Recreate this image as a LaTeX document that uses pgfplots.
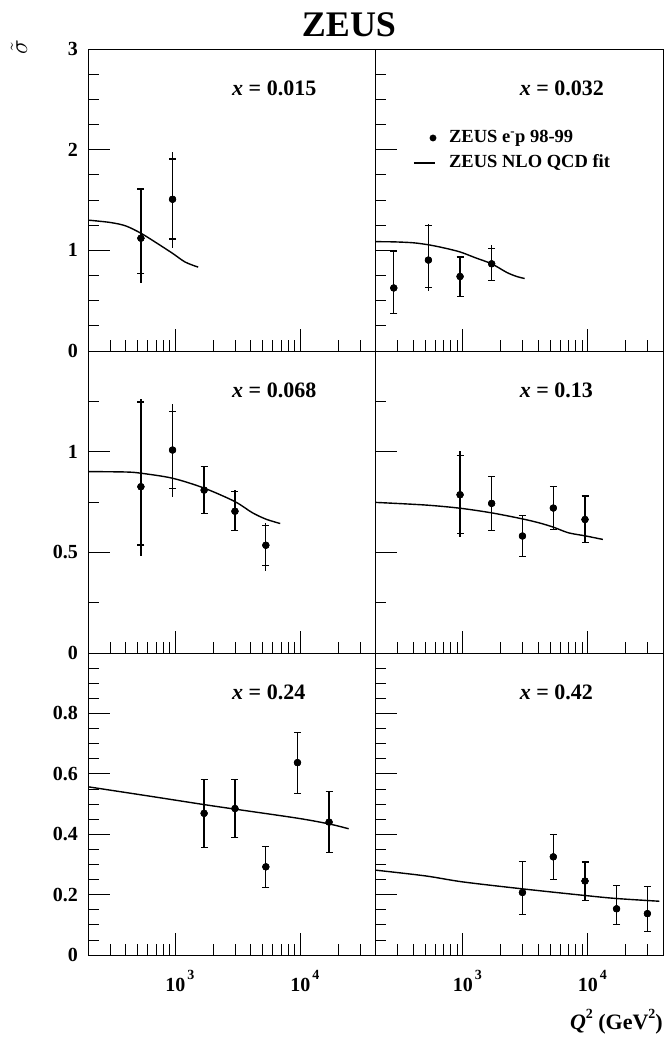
\documentclass[border=0pt]{standalone}
\usepackage{fontspec}
\setmainfont{Liberation Serif}
\usepackage{pgfplots}
\pgfplotsset{compat=1.18}
\usepackage{pgfplotstable}

% q  y  stat+  stat-  total+  total-   (errors)
\pgfplotstableread{
q y sp sm tp tm
530 1.12 0.49 0.35 0.50 0.44
950 1.507 0.40 0.394 0.47 0.487
}\dataA
\pgfplotstableread{
q y sp sm tp tm
280 0.626 0.367 0.25 0.367 0.25
530 0.903 0.347 0.27 0.357 0.31
950 0.74 0.193 0.197 0.205 0.208
1700 0.866 0.154 0.166 0.184 0.166
}\dataB
\pgfplotstableread{
q y sp sm tp tm
530 0.826 0.421 0.29 0.437 0.344
950 1.008 0.191 0.191 0.227 0.233
1700 0.809 0.117 0.118 0.117 0.118
3000 0.704 0.099 0.095 0.104 0.099
5300 0.535 0.10 0.102 0.111 0.127
}\dataC
\pgfplotstableread{
q y sp sm tp tm
950 0.786 0.194 0.192 0.219 0.21
1700 0.743 0.134 0.133 0.134 0.133
3000 0.581 0.103 0.101 0.103 0.101
5300 0.72 0.106 0.108 0.106 0.108
9500 0.663 0.117 0.114 0.117 0.114
}\dataD
\pgfplotstableread{
q y sp sm tp tm
1700 0.469 0.112 0.113 0.112 0.113
3000 0.485 0.096 0.095 0.096 0.095
5300 0.292 0.066 0.068 0.066 0.068
9500 0.637 0.101 0.101 0.101 0.101
17000 0.44 0.102 0.101 0.102 0.101
}\dataE
\pgfplotstableread{
q y sp sm tp tm
3000 0.207 0.102 0.073 0.102 0.073
5300 0.325 0.075 0.076 0.075 0.076
9500 0.245 0.063 0.064 0.063 0.064
17000 0.153 0.077 0.053 0.077 0.053
30000 0.137 0.091 0.06 0.091 0.06
}\dataF

\newcommand\expo[1]{\rlap{\hspace{2pt}\raisebox{12pt}{\fontsize{14}{14}\selectfont\bfseries #1}}}

\pgfplotsset{every axis/.append style={
    scale only axis, width=287.5pt, height=302pt, anchor=south west,
    xmode=log, xmin=200, xmax=40000,
    xtick={1000,10000},
    minor xtick={300,400,500,600,700,800,900,2000,3000,4000,5000,6000,7000,8000,9000,20000,30000},
    tick align=inside, xtick pos=left, ytick pos=left,
    major tick length=22pt, minor tick length=11pt,
    every tick/.append style={black, line width=0.7pt},
    axis line style={black, line width=0.9pt},
    yticklabel style={anchor=east, inner sep=0pt, xshift=-10pt, font=\fontsize{20}{20}\selectfont\bfseries},
    xticklabel style={anchor=north, inner sep=0pt, yshift=-15pt, font=\fontsize{20}{20}\selectfont\bfseries},
  }}

\newcommand\pts[1]{%
  \addplot[black, only marks, mark=*, mark size=3.4pt, forget plot,
    error bars/y dir=both, error bars/y explicit, error bars/error mark=none,
    error bars/error bar style={black, line width=1.3pt}]
    table[x=q, y=y, y error plus=tp, y error minus=tm] {#1};
  \addplot[black, only marks, mark=*, mark size=3.4pt, forget plot,
    error bars/y dir=both, error bars/y explicit,
    error bars/error bar style={black, line width=1.3pt},
    error bars/error mark options={rotate=90, black, line width=1.2pt, mark size=3.5pt}]
    table[x=q, y=y, y error plus=sp, y error minus=sm] {#1};
}
\newcommand\fitline{\addplot[black, line width=1.4pt, smooth, no marks, forget plot]}
\newcommand\lab[1]{\node[anchor=west, inner sep=0pt, font=\fontsize{22}{22}\selectfont\bfseries] at (rel axis cs:0.501,0.871) {\textit{x} = #1};}

\begin{document}
\begin{tikzpicture}
\useasboundingbox (0pt,0pt) rectangle (664pt,1038pt);

% top left
\begin{axis}[at={(88pt,687pt)}, ymin=0, ymax=3, ytick={0,1,2,3}, minor y tick num=3,
  yticklabels={0,1,2,3}, xticklabel={\phantom{0}}]
  \fitline coordinates {(200,1.30) (300,1.277) (400,1.243) (530,1.17) (700,1.077) (950,0.97) (1200,0.883) (1524,0.833)};
  \pts{\dataA}
  \lab{0.015}
\end{axis}
% top right
\begin{axis}[at={(375.5pt,687pt)}, ymin=0, ymax=3, ytick={0,1,2,3}, minor y tick num=3,
  yticklabel={\phantom{0}}, xticklabel={\phantom{0}}]
  \fitline coordinates {(200,1.086) (280,1.084) (400,1.075) (530,1.055) (700,1.025) (950,0.984) (1260,0.926) (1700,0.866) (2250,0.78) (2700,0.74) (3126,0.72)};
  \pts{\dataB}
  \lab{0.032}
  % legend key
  \addplot[black, only marks, mark=*, mark size=3.2pt, forget plot] coordinates {(577,2.116)};
  \addplot[black, line width=1.2pt, no marks, forget plot] coordinates {(406,1.868) (598,1.868)};
  \node[anchor=west, inner sep=0pt, font=\fontsize{18.5}{18.5}\selectfont\bfseries] at (axis cs:774,2.116) {ZEUS e\textsuperscript{-}p 98-99};
  \node[anchor=west, inner sep=0pt, font=\fontsize{18.5}{18.5}\selectfont\bfseries] at (axis cs:774,1.868) {ZEUS NLO QCD fit};
\end{axis}
% middle left
\begin{axis}[at={(88pt,385pt)}, ymin=0, ymax=1.5, ytick={0,0.5,1,1.5}, minor y tick num=1,
  yticklabels={0,0.5,1,{}}, xticklabel={\phantom{0}}]
  \fitline coordinates {(200,0.901) (400,0.899) (530,0.893) (950,0.868) (1700,0.819) (3000,0.752) (4100,0.698) (5300,0.665) (6909,0.643)};
  \pts{\dataC}
  \lab{0.068}
\end{axis}
% middle right
\begin{axis}[at={(375.5pt,385pt)}, ymin=0, ymax=1.5, ytick={0,0.5,1,1.5}, minor y tick num=1,
  yticklabel={\phantom{0}}, xticklabel={\phantom{0}}]
  \fitline coordinates {(200,0.748) (500,0.735) (950,0.719) (1700,0.696) (3000,0.666) (4100,0.646) (5300,0.625) (7000,0.597) (9500,0.582) (13200,0.564)};
  \pts{\dataD}
  \lab{0.13}
\end{axis}
% bottom left
\begin{axis}[at={(88pt,83pt)}, ymin=0, ymax=1, ytick={0,0.2,0.4,0.6,0.8,1}, minor y tick num=3,
  yticklabels={0,0.2,0.4,0.6,0.8,{}}, xticklabels={10\expo{3},10\expo{4}}]
  \fitline coordinates {(200,0.557) (600,0.527) (1700,0.498) (3000,0.483) (9500,0.453) (17000,0.434) (24384,0.418)};
  \pts{\dataE}
  \lab{0.24}
\end{axis}
% bottom right
\begin{axis}[at={(375.5pt,83pt)}, ymin=0, ymax=1, ytick={0,0.2,0.4,0.6,0.8,1}, minor y tick num=3,
  yticklabel={\phantom{0}}, xticklabels={10\expo{3},10\expo{4}}]
  \fitline coordinates {(200,0.281) (500,0.262) (1000,0.242) (3000,0.219) (9500,0.197) (17000,0.187) (37400,0.178)};
  \pts{\dataF}
  \lab{0.42}
\end{axis}

\node[font=\fontsize{36}{36}\selectfont\bfseries] at (349pt,1013pt) {ZEUS};
\node[rotate=90, font=\fontsize{30}{30}\selectfont] at (19pt,991pt) {$\tilde{\sigma}$};
\node[anchor=base east, inner sep=0pt, font=\fontsize{22}{22}\selectfont\bfseries] at (663pt,9pt)
  {\textit{Q}\raisebox{10pt}{\fontsize{14}{14}\selectfont 2} (GeV\raisebox{10pt}{\fontsize{14}{14}\selectfont 2})};
\end{tikzpicture}
\end{document}
